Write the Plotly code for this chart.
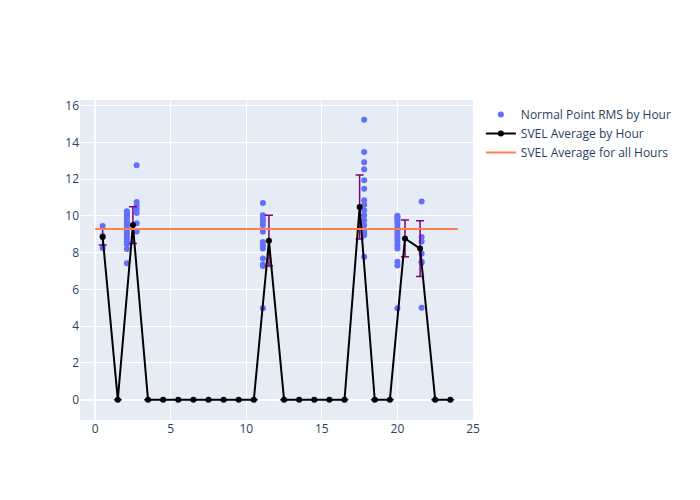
import plotly.graph_objects as go

# Normal point RMS by hour (scatter)
rms_x = ([0.5, 0.5, 0.5]
         + [2.1] * 16
         + [2.75] * 7
         + [11.1] * 13
         + [17.8] * 16
         + [20.0] * 16
         + [21.6] * 7)
rms_y = ([9.45, 8.9, 8.25]
         + [10.25, 10.15, 10.05, 9.95, 9.8, 9.65, 9.5, 9.35, 9.2, 9.05, 8.9, 8.75, 8.6, 8.45, 8.2, 7.43]
         + [12.75, 10.75, 10.55, 10.35, 10.15, 9.6, 9.15]
         + [10.7, 10.03, 9.85, 9.7, 9.49, 9.13, 8.58, 8.4, 8.22, 7.68, 7.35, 7.28, 4.97]
         + [15.22, 13.47, 12.92, 12.53, 11.93, 11.48, 10.85, 10.6, 10.3, 10.03, 9.76, 9.49, 9.22, 8.95, 9.1, 7.77]
         + [10.0, 9.94, 9.85, 9.76, 9.58, 9.4, 9.22, 9.04, 8.9, 8.77, 8.6, 8.4, 8.23, 7.5, 7.3, 4.97]
         + [10.78, 8.85, 8.6, 7.95, 7.5, 7.45, 5.0])

hours = [h + 0.5 for h in range(24)]
avg = [8.85, 0, 9.5, 0, 0, 0, 0, 0, 0, 0, 0, 8.65, 0, 0, 0, 0, 0, 10.48, 0, 0, 8.77, 8.22, 0, 0]
err = [0.43, 0, 1.0, 0, 0, 0, 0, 0, 0, 0, 0, 1.38, 0, 0, 0, 0, 0, 1.74, 0, 0, 1.0, 1.52, 0, 0]

overall_x = [0, 24]
overall_y = [9.28, 9.28]

fig = go.Figure()
fig.add_trace(go.Scatter(x=rms_x, y=rms_y, mode="markers",
                         name="Normal Point RMS by Hour",
                         marker=dict(color="#636efa", size=6)))
fig.add_trace(go.Scatter(x=hours, y=avg, mode="lines+markers",
                         name="SVEL Average by Hour",
                         line=dict(color="black", width=2),
                         marker=dict(color="black", size=6),
                         error_y=dict(type="data", array=err, visible=True,
                                      color="purple", thickness=1.5, width=4)))
fig.add_trace(go.Scatter(x=overall_x, y=overall_y, mode="lines",
                         name="SVEL Average for all Hours",
                         line=dict(color="coral", width=2)))

fig.update_layout(width=700, height=500, template="plotly",
                  margin=dict(l=80, r=227, t=100, b=80),
                  xaxis=dict(range=[-1, 25], dtick=5),
                  yaxis=dict(range=[-1.1, 16.3], dtick=2))
fig.write_html("out.html")
